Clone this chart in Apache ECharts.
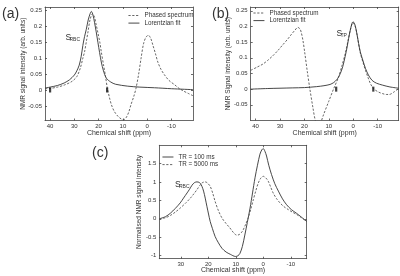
<!DOCTYPE html>
<html><head><meta charset="utf-8">
<script src="https://cdn.jsdelivr.net/npm/echarts@6/dist/echarts.min.js"></script>
<style>html,body{margin:0;padding:0;background:#fff}#c{width:400px;height:276px}</style>
</head><body><div id="c"></div>
<script>
// ---- Panel (a) ----
var aPhasedPpm = [42.1,40,37,34,31,29,27.5,26.5,25.8,25,24.4,23.5,22.5,21.8,21,20.3,19.5,18.9,18,17.2,16.5,15.5,14.7,13.5,12,10.5,9.5,8.5,7.5,6.7,5.5,4.6,3.5,2.5,1.5,0.5,-0.5,-1.5,-2.4,-3.4,-4.4,-5.7,-7.2,-9,-11.4,-13,-14.9,-17,-18.9];
var aPhased    = [0.004,0.005,0.009,0.016,0.027,0.042,0.07,0.10,0.12,0.155,0.182,0.222,0.24,0.232,0.205,0.18,0.15,0.12,0.08,0.045,0.01,-0.025,-0.047,-0.068,-0.083,-0.092,-0.093,-0.085,-0.068,-0.047,-0.02,0.005,0.05,0.1,0.145,0.166,0.172,0.162,0.14,0.115,0.088,0.065,0.047,0.03,0.016,0.006,-0.003,-0.011,-0.018];
var aFitPpm = [42.1,40,37,34.2,32,30,29,28,27.2,26.5,25.8,25.1,24.3,23.5,23,22.4,21.7,21,20.3,19.6,18.9,18,16.8,15,13,8,3,-3,-10,-18.9];
var aFit    = [0.006,0.009,0.014,0.022,0.032,0.047,0.06,0.078,0.105,0.14,0.168,0.19,0.22,0.24,0.247,0.238,0.213,0.183,0.15,0.118,0.088,0.06,0.037,0.025,0.018,0.012,0.009,0.007,0.004,0.001];
var aMarkPpm = [40,16.5];
var aMarkVal = [0,0];
// ---- Panel (b) ----
var bPhasedPpm = [42,39.2,37,35,33,30.9,28.8,26.8,25.3,24,22.7,21.8,21.3,20.6,19.9,18.8,17.8,16.5,15.5,14,13,12.2,10.1,8,6,4.6,3.3,2,1,0.2,-0.8,-1.5,-2.9,-4,-5,-6,-7,-8.2,-9,-10.5,-11.9,-13.5,-14.7,-16.5,-18.6];
var bPhased    = [0.06,0.071,0.08,0.092,0.106,0.123,0.142,0.16,0.175,0.187,0.197,0.192,0.181,0.155,0.118,0.055,0.002,-0.06,-0.1,-0.12,-0.1,-0.082,-0.04,0.002,0.039,0.076,0.113,0.16,0.195,0.212,0.2,0.175,0.115,0.085,0.06,0.038,0.018,0.002,-0.003,-0.01,-0.014,-0.017,-0.017,-0.01,0.003];
var bFitPpm = [42,35,30,25,20,15,12,9.5,8,7.4,6.3,5.3,4.3,3.3,2.5,1.9,1,0.1,-0.7,-1.5,-2.2,-2.9,-4,-5,-6.2,-7.7,-9.5,-11.9,-15,-18.6];
var bFit    = [0,0.002,0.003,0.004,0.005,0.008,0.011,0.015,0.021,0.025,0.035,0.05,0.072,0.105,0.135,0.162,0.196,0.215,0.205,0.176,0.145,0.118,0.09,0.066,0.045,0.028,0.019,0.013,0.007,0.003];
var bMarkPpm = [7,-8.2];
var bMarkVal = [0,0];
// ---- Panel (c) ----
var cTR100Ppm = [37.8,35.5,33.8,32,30.2,29,27.7,26.8,25.9,25,24.1,23.4,22.9,22.3,21.7,21.1,20.5,19.9,19.3,18.5,17.5,16.3,15,13.5,12,10.1,9.2,8.5,7.6,6.7,5.8,4.8,3.9,3,2.1,1.2,0.5,0,-0.6,-1.2,-2,-3,-4.2,-5.5,-7,-8.5,-10.2,-12.1,-13.8,-15.8];
var cTR100    = [0,0.06,0.15,0.28,0.43,0.56,0.7,0.8,0.91,0.98,1.0,0.99,0.96,0.88,0.75,0.56,0.34,0.13,-0.07,-0.26,-0.48,-0.65,-0.8,-0.9,-0.96,-1.02,-1.0,-0.94,-0.75,-0.44,-0.1,0.29,0.7,1.11,1.45,1.75,1.87,1.9,1.83,1.7,1.45,1.2,0.95,0.75,0.54,0.38,0.25,0.15,0.05,-0.07];
var cTR5000Ppm = [37.8,35.5,33.8,32,30.2,28.3,26.5,25.2,24.1,23.1,22.3,21.6,21.1,20.3,19.3,18.4,17.5,16.3,15,13.5,12.2,11.4,10.5,9.7,8.8,7.8,7.3,6.4,5.5,4.5,3.6,2.7,1.8,0.9,0,-0.9,-1.8,-2.7,-3.6,-4.8,-6.1,-7.5,-9.1,-10.6,-12.1,-13.7,-15.8];
var cTR5000    = [0,0.03,0.09,0.18,0.29,0.42,0.56,0.68,0.79,0.9,0.97,0.995,1.0,0.97,0.88,0.7,0.47,0.22,0.02,-0.13,-0.24,-0.32,-0.4,-0.44,-0.43,-0.36,-0.3,-0.15,0.02,0.27,0.52,0.76,0.97,1.1,1.15,1.11,1.02,0.86,0.7,0.55,0.43,0.33,0.25,0.18,0.12,0.04,-0.07];
// ---- ticks ----
var abXTicks = [40,30,20,10,0,-10];
var abYTicks = [-0.05,0,0.05,0.1,0.15,0.2,0.25];
var cXTicks = [30,20,10,0,-10];
var cYTicks = [-1,-0.5,0,0.5,1,1.5];

function zip(x,y){return x.map(function(v,i){return [v,y[i]];});}
var TXT = '#333', AX = '#444', FONT = 'Liberation Sans';
var grids = [
  {left:45, top:7, width:148, height:113.5},
  {left:250.7, top:7, width:148, height:113.5},
  {left:159.3, top:145.3, width:147.4, height:113.4}
];
var xr = [[-18.9,42.1],[-18.6,42],[-15.8,37.8]];
var yr = [[-0.096,0.261],[-0.1,0.262],[-1.08,1.99]];
var xt = [abXTicks,abXTicks,cXTicks];
var yt = [abYTicks,abYTicks,cYTicks];
var yNames = ['NMR signal intensity (arb. units)','NMR Signal intensity (arb. units)','Normalised NMR signal intensity'];
var fmt = function(v){return String(Math.round(v*1000)/1000);};
var xAxes=[], yAxes=[];
for (var g=0; g<3; g++){
  xAxes.push({type:'value',gridIndex:g,position:'bottom',inverse:true,min:xr[g][0],max:xr[g][1],
    name:'Chemical shift (ppm)',nameLocation:'middle',nameGap:g===2?8:9.5,nameMoveOverlap:false,
    nameTextStyle:{color:TXT,fontSize:7,fontFamily:FONT,verticalAlign:'top'},
    axisLine:{onZero:false,lineStyle:{color:AX,width:0.8}},splitLine:{show:false},
    axisTick:{inside:true,length:2,lineStyle:{color:AX,width:0.8},customValues:xt[g]},
    axisLabel:{color:TXT,fontSize:6,fontFamily:FONT,margin:3,customValues:xt[g],formatter:fmt}});
  xAxes.push({type:'value',gridIndex:g,position:'top',inverse:true,min:xr[g][0],max:xr[g][1],
    axisLine:{onZero:false,lineStyle:{color:AX,width:0.8}},splitLine:{show:false},
    axisTick:{inside:true,length:2,lineStyle:{color:AX,width:0.8},customValues:xt[g]},
    axisLabel:{show:false}});
  yAxes.push({type:'value',gridIndex:g,position:'left',min:yr[g][0],max:yr[g][1],
    name:yNames[g],nameLocation:'middle',nameGap:g===2?17:18.5,nameMoveOverlap:false,
    nameTextStyle:{color:TXT,fontSize:6.5,fontFamily:FONT},
    axisLine:{show:true,onZero:false,lineStyle:{color:AX,width:0.8}},splitLine:{show:false},
    axisTick:{show:true,inside:true,length:2,lineStyle:{color:AX,width:0.8},customValues:yt[g]},
    axisLabel:{color:TXT,fontSize:6,fontFamily:FONT,margin:3,customValues:yt[g],formatter:fmt}});
  yAxes.push({type:'value',gridIndex:g,position:'right',min:yr[g][0],max:yr[g][1],
    axisLine:{show:true,onZero:false,lineStyle:{color:AX,width:0.8}},splitLine:{show:false},
    axisTick:{show:true,inside:true,length:2,lineStyle:{color:AX,width:0.8},customValues:yt[g]},
    axisLabel:{show:false}});
}
var dashed = {color:'#555',width:0.9,type:[2.2,1.6]};
var solid = {color:'#333',width:0.9,type:'solid'};
function line(name,xi,data,ls){return {type:'line',name:name,xAxisIndex:xi,yAxisIndex:xi,data:data,
  showSymbol:false,symbol:'none',smooth:0.3,lineStyle:ls,itemStyle:{color:ls.color},animation:false,clip:true,z:3};}
function marks(xi,data){return {type:'scatter',xAxisIndex:xi,yAxisIndex:xi,data:data,symbol:'rect',
  symbolSize:[2.2,5],itemStyle:{color:'#111'},animation:false,silent:true,z:4};}
var series = [
  line('Phased spectrum',0,zip(aPhasedPpm,aPhased),dashed),
  line('Lorentzian fit',0,zip(aFitPpm,aFit),solid),
  marks(0,zip(aMarkPpm,aMarkVal)),
  line('Phased spectrum',2,zip(bPhasedPpm,bPhased),dashed),
  line('Lorentzian fit',2,zip(bFitPpm,bFit),solid),
  marks(2,zip(bMarkPpm,bMarkVal)),
  line('TR = 100 ms',4,zip(cTR100Ppm,cTR100),solid),
  line('TR = 5000 ms',4,zip(cTR5000Ppm,cTR5000),dashed)
];
function legend(names,left,top){return {data:names,
  left:left,top:top,orient:'vertical',itemWidth:11,itemHeight:6,itemGap:1.6,padding:0,selectedMode:false,
  itemStyle:{opacity:0},lineStyle:{width:0.9},
  textStyle:{color:TXT,fontSize:6.3,fontFamily:FONT}};}
var legends = [
  legend(['Phased spectrum','Lorentzian fit'],128,12.5),
  legend(['Phased spectrum','Lorentzian fit'],253,10),
  legend(['TR = 100 ms','TR = 5000 ms'],162,154)
];
function txt(s,x,y,size,fam){return {type:'text',left:x,top:y,style:{text:s,fill:TXT,font:size+'px "'+(fam||FONT)+'"'},silent:true};}
var graphic = [
  txt('(a)',2,7,14), txt('(b)',212,7,14), txt('(c)',92,146,14),
  txt('S',65.5,33,8.5), txt('RBC',69.5,37.5,5),
  txt('S',336.5,29.5,8.5), txt('TP',340.5,33.5,5),
  txt('S',175,180.5,8.5), txt('RBC',179,184.5,5)
];
var chart = echarts.init(document.getElementById('c'),null,{renderer:'canvas'});
chart.setOption({animation:false,backgroundColor:'#fff',grid:grids,xAxis:xAxes,yAxis:yAxes,
  series:series,legend:legends,graphic:graphic});
</script></body></html>
